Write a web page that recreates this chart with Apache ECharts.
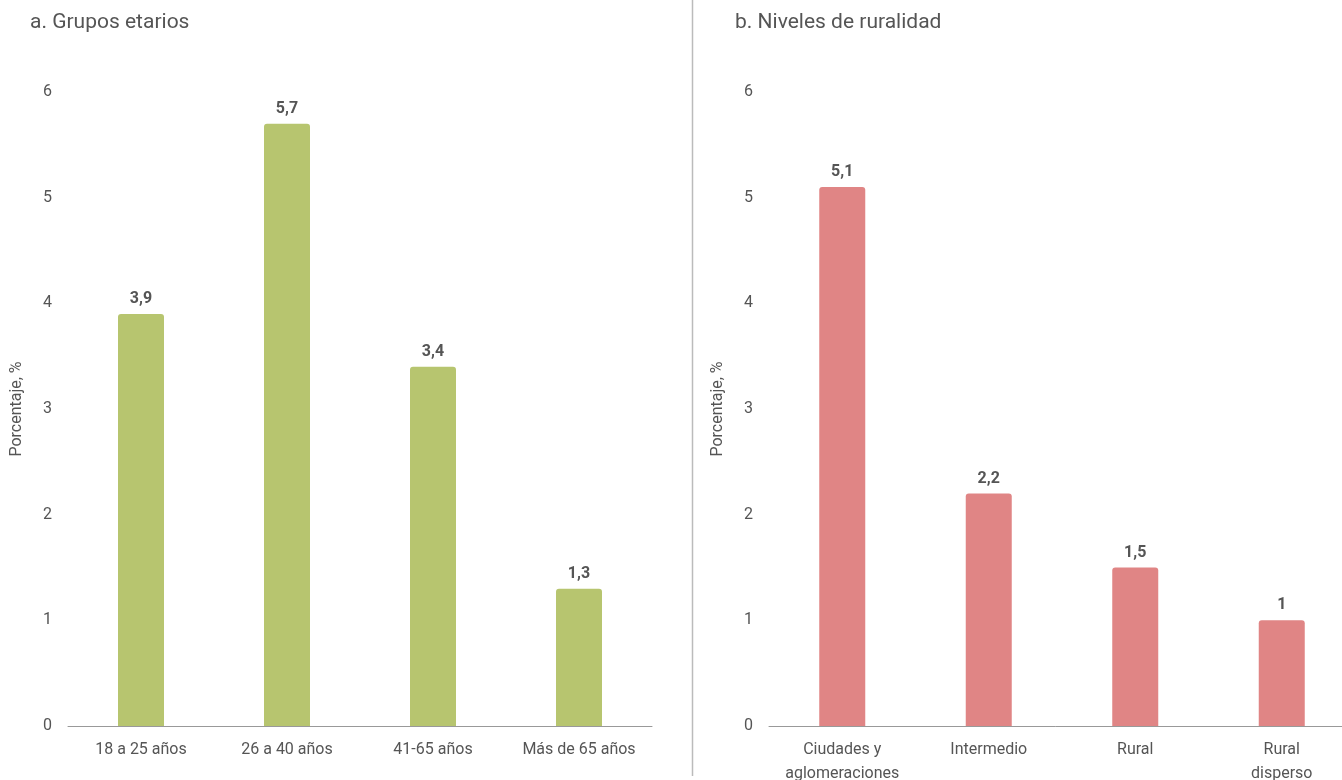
<!DOCTYPE html>
<html>
<head>
<meta charset="utf-8">
<script src="https://cdn.jsdelivr.net/npm/echarts@6/dist/echarts.min.js"></script>
<style>
  html, body { margin: 0; padding: 0; background: #fff; }
  #main { width: 1342px; height: 780px; }
</style>
</head>
<body>
<div id="main"></div>
<script>
// datos
var edadCats = ['18 a 25 años', '26 a 40 años', '41-65 años', 'Más de 65 años'];
var edadVals = [3.9, 5.7, 3.4, 1.3];
var ruralCats = ['Ciudades y\naglomeraciones', 'Intermedio', 'Rural', 'Rural\ndisperso'];
var ruralVals = [5.1, 2.2, 1.5, 1];

var FONT = 'Roboto';
var TXT = '#555';

function yAxisCfg(idx) {
    return {
        type: 'value',
        gridIndex: idx,
        min: 0,
        max: 6,
        interval: 1,
        name: 'Porcentaje, %',
        nameLocation: 'middle',
        nameGap: 43,
        nameTextStyle: { color: TXT, fontSize: 16, fontFamily: FONT },
        axisLine: { show: false },
        axisTick: { show: false },
        splitLine: { show: false },
        axisLabel: { color: TXT, fontSize: 16, fontFamily: FONT, margin: 16 }
    };
}

function xAxisCfg(idx, cats) {
    return {
        type: 'category',
        gridIndex: idx,
        data: cats,
        axisLine: { lineStyle: { color: '#999', width: 1 } },
        axisTick: { show: false },
        axisLabel: { color: TXT, fontSize: 16, fontFamily: FONT, margin: 12, lineHeight: 24, interval: 0 }
    };
}

function barSeries(idx, vals, color) {
    return {
        type: 'bar',
        xAxisIndex: idx,
        yAxisIndex: idx,
        data: vals,
        barWidth: 46,
        itemStyle: { color: color, borderRadius: [3, 3, 0, 0] },
        label: {
            show: true,
            position: 'top',
            distance: 7,
            color: TXT,
            fontSize: 16,
            fontWeight: 'bold',
            fontFamily: FONT,
            formatter: function (p) { return String(p.value).replace('.', ','); }
        }
    };
}

var chart = echarts.init(document.getElementById('main'));
chart.setOption({
    animation: false,
    title: [
        { text: 'a. Grupos etarios', left: 30, top: 12, padding: 0, textStyle: { color: TXT, fontSize: 21, fontWeight: 'normal', fontFamily: FONT } },
        { text: 'b. Niveles de ruralidad', left: 735, top: 12, padding: 0, textStyle: { color: TXT, fontSize: 21, fontWeight: 'normal', fontFamily: FONT } }
    ],
    grid: [
        { left: 68, width: 584, top: 92, bottom: 54, outerBoundsMode: 'none' },
        { left: 769, width: 586, top: 92, bottom: 54, outerBoundsMode: 'none' }
    ],
    xAxis: [xAxisCfg(0, edadCats), xAxisCfg(1, ruralCats)],
    yAxis: [yAxisCfg(0), yAxisCfg(1)],
    series: [
        barSeries(0, edadVals, '#b7c56f'),
        barSeries(1, ruralVals, '#e08585')
    ],
    graphic: [{
        type: 'line',
        shape: { x1: 692.5, y1: 0, x2: 692.5, y2: 776 },
        style: { stroke: '#bbb', lineWidth: 1.5 }
    }]
});
</script>
</body>
</html>
